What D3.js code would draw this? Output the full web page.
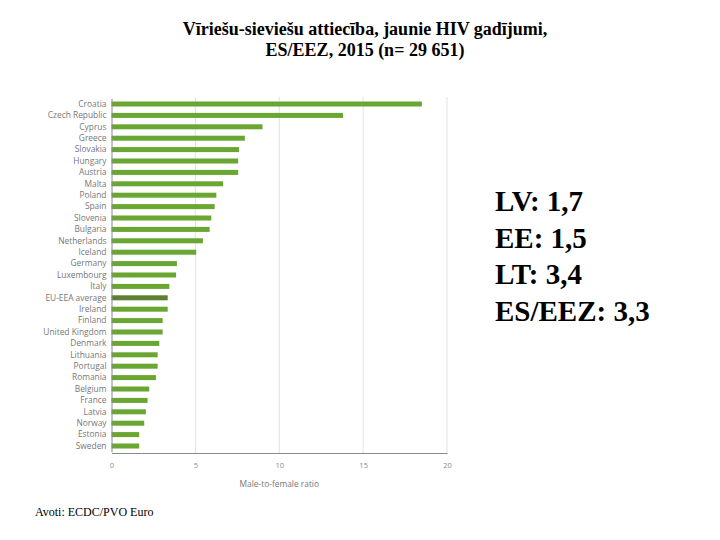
<!DOCTYPE html>
<html>
<head>
<meta charset="utf-8">
<script src="https://cdn.jsdelivr.net/npm/d3@7"></script>
<style>
body { margin: 0; background: #fff; }
svg { display: block; }
</style>
</head>
<body>
<svg id="chart" width="720" height="540"></svg>
<script>
const countries = ["Croatia","Czech Republic","Cyprus","Greece","Slovakia","Hungary","Austria","Malta","Poland","Spain","Slovenia","Bulgaria","Netherlands","Iceland","Germany","Luxembourg","Italy","EU-EEA average","Ireland","Finland","United Kingdom","Denmark","Lithuania","Portugal","Romania","Belgium","France","Latvia","Norway","Estonia","Sweden"];
const ratios = [18.5,13.8,9.0,7.95,7.6,7.55,7.55,6.65,6.25,6.15,5.95,5.85,5.45,5.05,3.9,3.85,3.45,3.35,3.35,3.05,3.05,2.85,2.75,2.75,2.65,2.25,2.15,2.05,1.95,1.65,1.65];
const xTicks = [0,5,10,15,20];
const titleLines = ["Vīriešu-sieviešu attiecība, jaunie HIV gadījumi,", "ES/EEZ, 2015 (n= 29 651)"];
const sideNotes = ["LV: 1,7","EE: 1,5","LT: 3,4","ES/EEZ: 3,3"];
const sourceText = "Avoti: ECDC/PVO Euro";
const axisTitle = "Male-to-female ratio";

const svg = d3.select("#chart");
const x = d3.scaleLinear().domain([0,20]).range([111.5,447]);
const y = d3.scaleBand().domain(countries).range([98.3,451.7]).paddingInner(0.56).paddingOuter(0.28);

// gridlines
svg.append("g").selectAll("line").data(xTicks.slice(1)).join("line")
  .attr("x1", d => x(d)).attr("x2", d => x(d))
  .attr("y1", 97).attr("y2", 453)
  .attr("stroke", "#e2e2e2").attr("stroke-width", 1);

// bars
svg.append("g").selectAll("rect").data(countries).join("rect")
  .attr("x", x(0))
  .attr("y", (d) => y(d))
  .attr("width", (d,i) => x(ratios[i]) - x(0))
  .attr("height", y.bandwidth())
  .attr("fill", d => d === "EU-EEA average" ? "#5d7f35" : "#6aa632");

// y axis
const yAxis = d3.axisLeft(y).tickSize(0).tickPadding(5);
const gy = svg.append("g").attr("transform", `translate(${x(0)},0)`).call(yAxis);
gy.select(".domain").attr("stroke", "#8a8a8a");
gy.selectAll("text").attr("font-family", "Open Sans, sans-serif").attr("font-size", 8.4).attr("fill", "#777");

// x axis
const xAxis = d3.axisBottom(x).tickValues(xTicks).tickSize(0).tickPadding(10);
const gx = svg.append("g").attr("transform", "translate(0,453)").call(xAxis);
gx.select(".domain").attr("stroke", "#8a8a8a");
gx.selectAll("text").attr("font-family", "Open Sans, sans-serif").attr("font-size", 7.5).attr("fill", "#8a8a8a");

svg.append("text").attr("x", x(10)).attr("y", 487).attr("text-anchor", "middle")
  .attr("font-family", "Open Sans, sans-serif").attr("font-size", 8.4).attr("fill", "#777")
  .text(axisTitle);

// title
svg.append("g").selectAll("text").data(titleLines).join("text")
  .attr("x", 365).attr("y", (d,i) => 35 + i*21)
  .attr("text-anchor", "middle")
  .attr("font-family", "Liberation Serif, Times New Roman, serif")
  .attr("font-weight", "bold").attr("font-size", 18)
  .text(d => d);

// side notes
svg.append("g").selectAll("text").data(sideNotes).join("text")
  .attr("x", 495).attr("y", (d,i) => 211 + i*36.5)
  .attr("font-family", "Liberation Serif, Times New Roman, serif")
  .attr("font-weight", "bold")
  .attr("font-size", 29)
  .text(d => d);

// source
svg.append("text").attr("x", 35).attr("y", 516)
  .attr("font-family", "Liberation Serif, Times New Roman, serif")
  .attr("font-size", 12).text(sourceText);
</script>
</body>
</html>
